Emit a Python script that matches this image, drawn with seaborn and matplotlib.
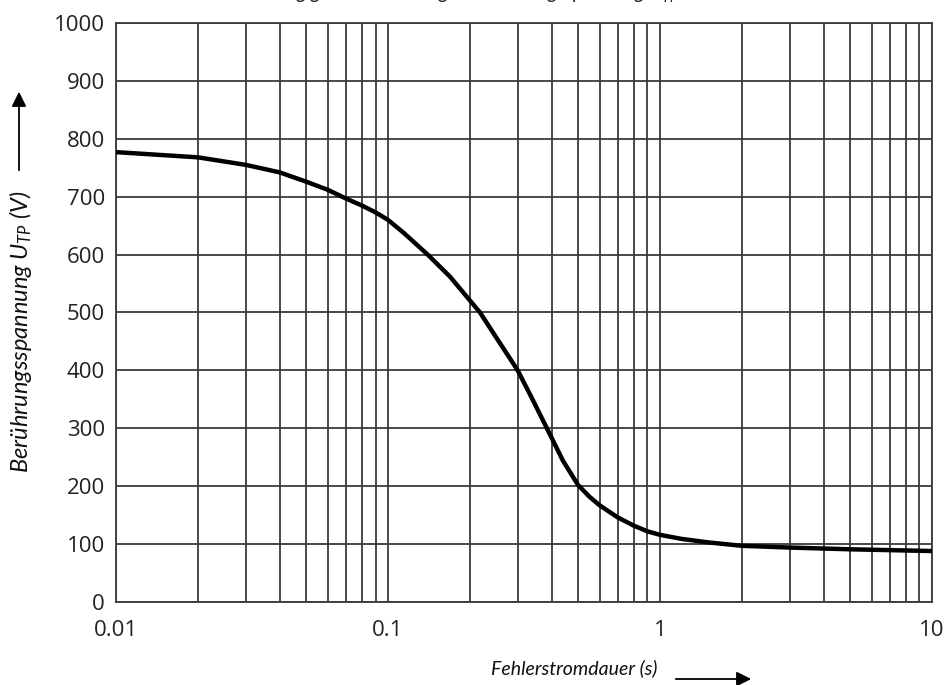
import numpy as np
import pandas as pd
import matplotlib
matplotlib.use('Agg')
import matplotlib.pyplot as plt
from matplotlib.ticker import LogLocator, FixedLocator, NullFormatter
import seaborn as sns

sns.set_style('white')
plt.rcParams['font.family'] = ['Open Sans', 'DejaVu Sans']
plt.rcParams['mathtext.fontset'] = 'custom'
plt.rcParams['mathtext.it'] = 'Lato:italic'
plt.rcParams['mathtext.rm'] = 'Lato'

# Kurve
dauer = [0.01, 0.02, 0.03, 0.04, 0.05, 0.06, 0.07, 0.08, 0.09, 0.1, 0.114, 0.14,
         0.169, 0.218, 0.25, 0.3, 0.34, 0.384, 0.44, 0.5, 0.55, 0.6, 0.7, 0.8, 0.9,
         1, 1.2, 1.5, 2, 3, 5, 10]
spannung = [777, 768, 755, 742, 726, 712, 697, 685, 673, 660, 638, 600,
            562, 500, 457, 400, 350, 300, 244, 202, 182, 167, 146, 132, 122,
            116, 109, 103, 97, 94, 91, 88]
x_ticks = [0.01, 0.1, 1, 10]
x_labels = ['0.01', '0.1', '1', '10']
y_ticks = list(range(0, 1001, 100))

df = pd.DataFrame({'t': dauer, 'u': spannung})

fig = plt.figure(figsize=(9.49, 6.85), dpi=100)
ax = fig.add_axes([0.1222, 0.1212, 0.8598, 0.8452])

gridc = '#3a3a3a'
sns.lineplot(data=df, x='t', y='u', ax=ax, color='black', linewidth=3.2, zorder=5)

ax.set_xscale('log')
ax.set_xlim(0.01, 10)
ax.set_ylim(0, 1000)
ax.xaxis.set_major_locator(FixedLocator(x_ticks))
ax.set_xticklabels(x_labels)
ax.xaxis.set_minor_locator(LogLocator(base=10, subs=np.arange(2, 10)))
ax.xaxis.set_minor_formatter(NullFormatter())
ax.set_yticks(y_ticks)

ax.grid(True, which='both', axis='x', color=gridc, linewidth=1.3)
ax.grid(True, which='major', axis='y', color=gridc, linewidth=1.3)

for s in ax.spines.values():
    s.set_color(gridc)
    s.set_linewidth(1.3)

ax.tick_params(axis='y', which='major', direction='out', length=5, width=1.2,
               color=gridc, labelsize=16, pad=3, labelcolor='#222222')
ax.tick_params(axis='x', which='major', direction='out', length=8, width=1.2,
               color=gridc, labelsize=16, pad=5, labelcolor='#222222')
ax.tick_params(axis='x', which='minor', direction='out', length=3, width=1,
               color=gridc)

ax.set_xlabel('Fehlerstromdauer (s)', fontsize=14, style='italic', color='#111111',
              family=['Lato', 'DejaVu Sans'])
ax.xaxis.set_label_coords(0.562, -0.099)
ax.set_ylabel('Berührungsspannung $U_{TP}$ (V)', fontsize=17, style='italic',
              color='#111111', family=['Lato', 'DejaVu Sans'])
ax.yaxis.set_label_coords(-0.101, 0.466)

# Pfeile an den Achsenbeschriftungen
ax.annotate('', xy=(19, 685 - 89), xytext=(19, 685 - 173), xycoords='figure pixels',
            textcoords='figure pixels',
            arrowprops=dict(arrowstyle='-|>', color='black', lw=1.3,
                            mutation_scale=22))
ax.annotate('', xy=(754, 685 - 679), xytext=(673, 685 - 679), xycoords='figure pixels',
            textcoords='figure pixels',
            arrowprops=dict(arrowstyle='-|>', color='black', lw=1.3,
                            mutation_scale=22))

# abgeschnittene Bildunterschrift oben
fig.text(0.47, 1.0 + 1 / 685, 'Zeitabhängigkeit der zulässigen Berührungsspannung $U_{TP}$',
         ha='center', va='baseline', fontsize=14, style='italic', color='#222222',
         family=['Lato', 'DejaVu Sans'])

fig.savefig('out.png', dpi=100)
